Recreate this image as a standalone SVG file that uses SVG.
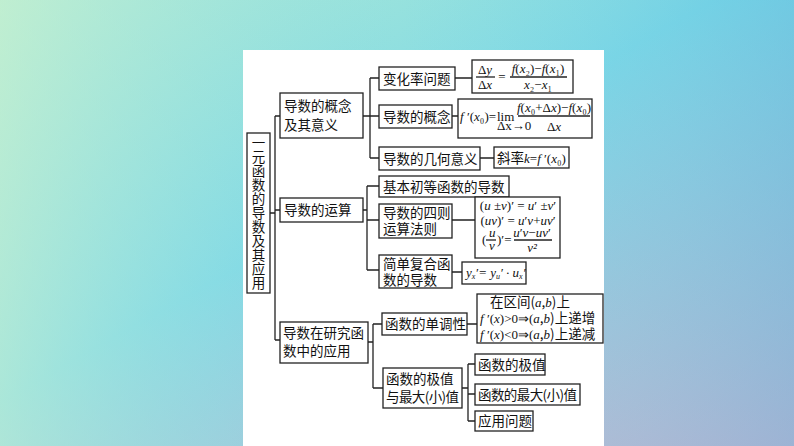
<svg xmlns="http://www.w3.org/2000/svg" width="794" height="446" viewBox="0 0 794 446">
<defs>
<linearGradient id="bg" x1="0" y1="0" x2="1" y2="1">
<stop offset="0" stop-color="#b4ecd2"/>
<stop offset="0.45" stop-color="#7fd9e6"/>
<stop offset="1" stop-color="#d0b0cc"/>
</linearGradient>
<linearGradient id="bg2" x1="0" y1="0" x2="1" y2="0">
<stop offset="0" stop-color="#c8f0d0" stop-opacity="0.6"/>
<stop offset="0.5" stop-color="#80d8ea" stop-opacity="0"/>
<stop offset="1" stop-color="#4fb8e0" stop-opacity="0.4"/>
</linearGradient>
<style>
.b{fill:#fff;stroke:#222;stroke-width:1.3}
.t{font-family:"Noto Sans CJK SC",sans-serif;font-size:13.5px;fill:#111}
.m{font-family:"Liberation Serif",serif;font-size:13px;fill:#111}
.i{font-style:italic}
.l{stroke:#222;stroke-width:1.3;fill:none}
</style>
</defs>
<rect width="794" height="446" fill="url(#bg)"/>
<rect width="794" height="446" fill="url(#bg2)"/>
<rect x="243" y="50" width="361" height="396" fill="#fff"/>
<g id="connectors" class="l">
<path d="M270 213H275M275 116V340M275 116H280M275 210H280M275 340H280"/>
<path d="M363 116H370M370 78V158M370 78H379M370 116H379M370 158H379"/>
<path d="M455 78H472M452 116H458M480 158H494"/>
<path d="M363 210H367M367 186V270M367 186H379M367 220H379M367 270H379"/>
<path d="M452 220H475M452 272H462"/>
<path d="M368 342H373M373 324V388M373 324H382M373 388H383"/>
<path d="M467 324H477M462 388H468M468 364V421M468 364H475M468 394H475M468 421H475"/>
</g>
<g id="root"><rect class="b" x="247" y="133" width="23" height="160"/>
<text class="t" x="258.5" y="148" text-anchor="middle" font-size="13"><tspan x="258.5">一</tspan><tspan x="258.5" dy="14">元</tspan><tspan x="258.5" dy="14">函</tspan><tspan x="258.5" dy="14">数</tspan><tspan x="258.5" dy="14">的</tspan><tspan x="258.5" dy="14">导</tspan><tspan x="258.5" dy="14">数</tspan><tspan x="258.5" dy="14">及</tspan><tspan x="258.5" dy="14">其</tspan><tspan x="258.5" dy="14">应</tspan><tspan x="258.5" dy="14">用</tspan></text></g>
<g id="n1"><rect class="b" x="280" y="93" width="83" height="45"/><text class="t" x="284" y="111">导数的概念</text><text class="t" x="284" y="130">及其意义</text></g>
<g id="n2"><rect class="b" x="280" y="198" width="83" height="24"/><text class="t" x="284" y="215">导数的运算</text></g>
<g id="n3"><rect class="b" x="280" y="322" width="88" height="41"/><text class="t" x="283" y="338">导数在研究函</text><text class="t" x="283" y="356">数中的应用</text></g>
<g id="n11"><rect class="b" x="379" y="67" width="76" height="23"/><text class="t" x="383" y="84">变化率问题</text></g>
<g id="f11"><rect class="b" x="472" y="60" width="101" height="33"/>
<text class="m" x="485" y="74" text-anchor="middle">Δ<tspan class="i">y</tspan></text><line class="l" x1="476" y1="77" x2="495" y2="77" stroke-width="1"/><text class="m" x="485" y="89" text-anchor="middle">Δ<tspan class="i">x</tspan></text>
<text class="m" x="502" y="81" text-anchor="middle">=</text>
<text class="m" x="538" y="73" text-anchor="middle" font-size="11"><tspan class="i">f</tspan>(<tspan class="i">x</tspan>₂)−<tspan class="i">f</tspan>(<tspan class="i">x</tspan>₁)</text><line class="l" x1="510" y1="77" x2="567" y2="77" stroke-width="1"/><text class="m" x="538" y="89" text-anchor="middle" font-size="11"><tspan class="i">x</tspan>₂−<tspan class="i">x</tspan>₁</text></g>
<g id="n12"><rect class="b" x="379" y="105" width="73" height="23"/><text class="t" x="383" y="122">导数的概念</text></g>
<g id="f12"><rect class="b" x="458" y="99" width="134" height="39"/>
<text class="m" x="460" y="121" font-size="11.5"><tspan class="i">f</tspan> ′(<tspan class="i">x</tspan>₀)=</text><text class="m" x="497" y="121" font-size="12">lim</text><text class="m" x="497" y="130" font-size="5.5">Δx→0</text>
<text class="m" x="554" y="112" text-anchor="middle" font-size="10.5"><tspan class="i">f</tspan>(<tspan class="i">x</tspan>₀+Δ<tspan class="i">x</tspan>)−<tspan class="i">f</tspan>(<tspan class="i">x</tspan>₀)</text><line class="l" x1="518" y1="116" x2="590" y2="116" stroke-width="1"/><text class="m" x="554" y="131" text-anchor="middle">Δ<tspan class="i">x</tspan></text></g>
<g id="n13"><rect class="b" x="379" y="147" width="101" height="23"/><text class="t" x="383" y="164">导数的几何意义</text></g>
<g id="f13"><rect class="b" x="494" y="147" width="75" height="21"/><text class="t" x="497" y="163">斜率<tspan class="m i" font-size="13">k</tspan><tspan class="m" font-size="13">=</tspan><tspan class="m i" font-size="13">f</tspan><tspan class="m" font-size="13"> ′(</tspan><tspan class="m i" font-size="13">x</tspan><tspan class="m" font-size="12">₀)</tspan></text></g>
<g id="n21"><rect class="b" x="379" y="176" width="130" height="21"/><text class="t" x="383" y="192">基本初等函数的导数</text></g>
<g id="n22"><rect class="b" x="379" y="204" width="73" height="34"/><text class="t" x="383" y="218">导数的四则</text><text class="t" x="383" y="234">运算法则</text></g>
<g id="f22"><rect class="b" x="475" y="197" width="85" height="61"/>
<text class="m" x="518" y="210" text-anchor="middle" font-size="12">(<tspan class="i">u</tspan> ±<tspan class="i">v</tspan>)′ = <tspan class="i">u</tspan>′ ±<tspan class="i">v</tspan>′</text>
<text class="m" x="518" y="225" text-anchor="middle" font-size="12">(<tspan class="i">uv</tspan>)′ = <tspan class="i">u</tspan>′<tspan class="i">v</tspan>+<tspan class="i">uv</tspan>′</text>
<text class="m i" x="489" y="237" font-size="11">u</text><line class="l" x1="486" y1="240" x2="496" y2="240" stroke-width="0.8"/><text class="m i" x="489" y="250" font-size="11">v</text>
<text class="m" x="482" y="244" font-size="13">(</text><text class="m" x="497" y="244" font-size="12">)′=</text>
<text class="m" x="532" y="237" text-anchor="middle" font-size="11"><tspan class="i">u</tspan>′<tspan class="i">v</tspan>−<tspan class="i">uv</tspan>′</text><line class="l" x1="514" y1="240" x2="552" y2="240" stroke-width="0.8"/><text class="m i" x="532" y="252" text-anchor="middle" font-size="11">v²</text></g>
<g id="n23"><rect class="b" x="379" y="255" width="73" height="33"/><text class="t" x="383" y="269">简单复合函</text><text class="t" x="383" y="285">数的导数</text></g>
<g id="f23"><rect class="b" x="462" y="262" width="64" height="22"/><text class="m i" x="466" y="277" font-size="12">y<tspan font-size="8" dy="2">x</tspan><tspan dy="-2">′= y</tspan><tspan font-size="8" dy="2">u</tspan><tspan dy="-2">′ · u</tspan><tspan font-size="8" dy="2">x</tspan><tspan dy="-2">′</tspan></text></g>
<g id="n31"><rect class="b" x="382" y="313" width="85" height="22"/><text class="t" x="385" y="329">函数的单调性</text></g>
<g id="f31"><rect class="b" x="477" y="294" width="126" height="49"/>
<text class="t" x="490" y="307" font-size="12.5">在区间(<tspan class="m i">a</tspan>,<tspan class="m i">b</tspan>)上</text>
<text class="t" x="480" y="323" font-size="12.5"><tspan class="m i">f</tspan><tspan class="m"> ′(</tspan><tspan class="m i">x</tspan><tspan class="m">)&gt;0⇒(</tspan><tspan class="m i">a</tspan>,<tspan class="m i">b</tspan>)上递增</text>
<text class="t" x="480" y="339" font-size="12.5"><tspan class="m i">f</tspan><tspan class="m"> ′(</tspan><tspan class="m i">x</tspan><tspan class="m">)&lt;0⇒(</tspan><tspan class="m i">a</tspan>,<tspan class="m i">b</tspan>)上递减</text></g>
<g id="n32"><rect class="b" x="383" y="368" width="79" height="40"/><text class="t" x="386" y="384">函数的极值</text><text class="t" x="386" y="402" textLength="73">与最大(小)值</text></g>
<g id="n321"><rect class="b" x="475" y="354" width="70" height="21"/><text class="t" x="478" y="370">函数的极值</text></g>
<g id="n322"><rect class="b" x="475" y="384" width="105" height="21"/><text class="t" x="478" y="400" textLength="99">函数的最大(小)值</text></g>
<g id="n323"><rect class="b" x="475" y="411" width="58" height="20"/><text class="t" x="478" y="426">应用问题</text></g>
</svg>
